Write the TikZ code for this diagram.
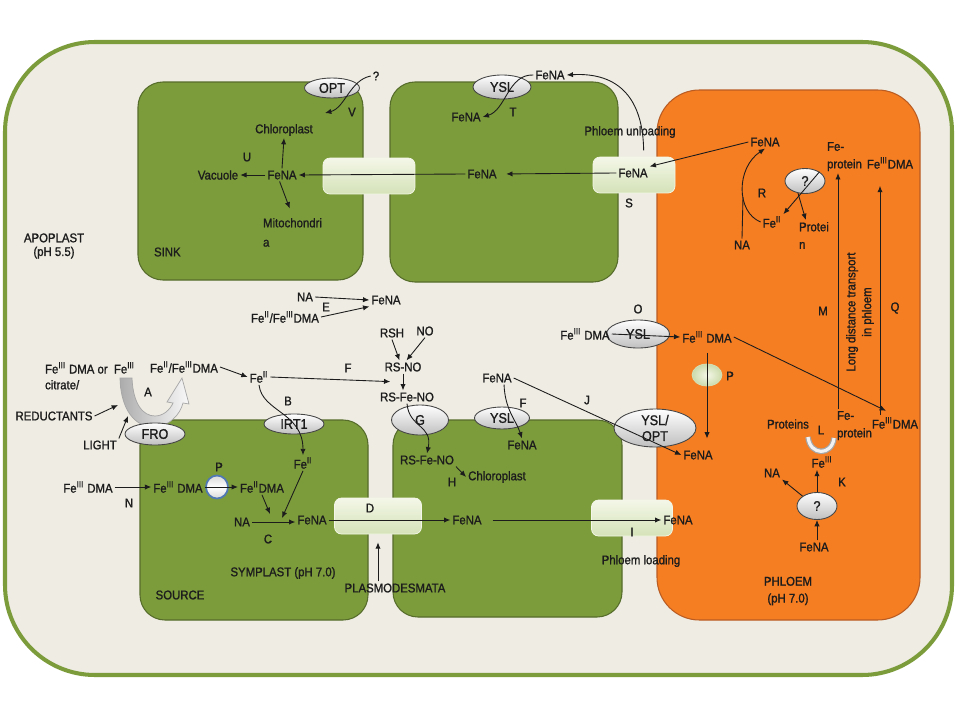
\documentclass[tikz,border=0pt]{standalone}
\usepackage{fontspec}
\setmainfont{Liberation Sans}[FakeStretch=0.9, FakeBold=1.2]
\usetikzlibrary{arrows.meta,shapes.geometric,positioning}
\definecolor{leafgreen}{RGB}{124,156,60}
\definecolor{leafedge}{RGB}{86,108,42}
\definecolor{sieveorange}{RGB}{245,125,34}
\definecolor{sieveedge}{RGB}{185,92,35}
\definecolor{apobeige}{RGB}{238,236,227}
\definecolor{pdlight}{RGB}{244,247,232}
\definecolor{pddark}{RGB}{212,226,184}
\definecolor{ringblue}{RGB}{79,120,180}
\definecolor{inkgray}{RGB}{28,28,28}
\newcommand{\FeII}{Fe\textsuperscript{II}}
\newcommand{\FeIII}{Fe\textsuperscript{III}}
\newcommand{\lblfont}{\fontsize{7.2}{8.5}\selectfont}
\def\pores{
  pdSinkMid/369/176/1.84,
  pdMidPhl/634/175/1.64,
  pdSD/378/516/1.74,
  pdMidPhl2/632/518/1.62
}
\tikzset{
  frame/.style    = {draw=leafgreen, line width=2.3pt, fill=apobeige, rounded corners=1.8cm},
  cell/.style     = {draw=leafedge, line width=0.6pt, fill=leafgreen, rounded corners=0.5cm},
  sieve/.style    = {draw=sieveedge, line width=0.6pt, fill=sieveorange, rounded corners=0.85cm},
  pore/.style     = {rectangle, draw=pdlight, line width=0.4pt, top color=pdlight, bottom color=pddark, rounded corners=0.14cm, minimum height=0.72cm},
  carrier/.style  = {ellipse, draw=gray!55!black, line width=0.5pt, top color=white, bottom color=gray!50, inner sep=0pt, text=inkgray, font=\fontsize{8}{9}\selectfont},
  gate/.style     = {ellipse, draw=ringblue, line width=1pt, top color=gray!30, bottom color=gray!30, middle color=white, inner sep=0pt},
  blob/.style     = {ellipse, draw=pddark, line width=0.4pt, inner color=pdlight, outer color=pddark!90!leafgreen, inner sep=0pt},
  lbl/.style      = {inner sep=1pt, text=inkgray, font=\lblfont},
  flow/.style     = {-{Latex[length=3.6pt,width=3pt]}, line width=0.5pt, draw=inkgray},
  link/.style     = {line width=0.5pt, draw=inkgray},
  uarc/.style     = {draw=gray!70, double=gray!10, double distance=1.8pt, line width=0.7pt}
}

\begin{document}
\begin{tikzpicture}[
    % slide pixel grid, y pointing down
    x=0.02cm, y=-0.02cm
  ]
  \useasboundingbox (0,0) rectangle (960,720);
  % Apoplast frame
  \draw[frame] (5,42) rectangle (952,675);
  % Cells
  \draw[cell] (138,82) rectangle (363,280);   % sink
  \draw[cell] (390,82) rectangle (618,282);
  \draw[cell] (140,420) rectangle (368,620);  % source
  \draw[cell] (393,420) rectangle (622,617);
  \draw[sieve] (657,90) rectangle (920,620);  % phloem

  % Plasmodesmata
  \foreach \pd/\cx/\cy/\w in \pores {
    \node[pore, minimum width=\w cm] (\pd) at (\cx,\cy) {};
  }

  % Reduction arrow at FRO
  \shade[left color=gray!65, right color=gray!5, draw=gray!70, line width=0.4pt]
    (120,378) .. controls (121,416) and (140,428) .. (155,427)
    .. controls (169,426) and (180,415) .. (183,403) -- (189,404) -- (182,378) -- (167,402)
    -- (173,403) .. controls (170,410) and (163,416) .. (155,416)
    .. controls (143,416) and (133,404) .. (132,378) -- cycle;

  % Carriers
  \node[carrier, minimum width=1.1cm, minimum height=0.4cm] (opt) at (332,88) {OPT};
  \node[carrier, minimum width=1.16cm, minimum height=0.48cm] (yslTop) at (502,87) {YSL};
  \node[carrier, minimum width=0.8cm, minimum height=0.5cm] (phlQ) at (805,181) {?};
  \node[carrier, minimum width=1.2cm, minimum height=0.44cm] (fro) at (155,434) {FRO};
  \node[carrier, minimum width=1.2cm, minimum height=0.4cm] (irt1) at (294,424) {IRT1};
  \node[carrier, minimum width=1.14cm, minimum height=0.6cm] (gCarrier) at (420,420) {G};
  \node[carrier, minimum width=1.1cm, minimum height=0.44cm] (yslF) at (502,418) {YSL};
  \node[carrier, minimum width=1.26cm, minimum height=0.56cm] (yslO) at (638,334) {YSL};
  \node[carrier, align=center, minimum width=1.64cm, minimum height=0.76cm] (yslOpt) at (655,428) {YSL/\\OPT};
  \node[carrier, minimum width=0.8cm, minimum height=0.54cm] (phlQ2) at (817,506) {?};
  \node[gate, minimum width=0.44cm, minimum height=0.46cm] (pRing) at (217,487) {};
  \node[blob, minimum width=0.6cm, minimum height=0.44cm] (pBlob) at (707,375) {};

  % Sink cell
  \node[lbl] (sinkQ) at (376,76) {?};
  \node[lbl] (sinkV) at (352,112) {V};
  \node[lbl] (sinkChl) at (284,130) {Chloroplast};
  \node[lbl] (sinkU) at (247,157) {U};
  \node[lbl] (sinkFeNA) at (282,175) {FeNA};
  \node[lbl] (sinkVac) at (218,175) {Vacuole};
  \node[lbl, align=left, anchor=north west, font=\fontsize{7.2}{11}\selectfont] (sinkMito) at (261,216) {Mitochondri\\a};
  \node[lbl, anchor=west] (sinkName) at (152,252) {SINK};
  \coordinate (optIn) at (325,113);
  \draw[flow] (sinkQ.west) .. controls (350,80) and (345,108) .. (optIn);
  \draw[flow] (sinkFeNA.north) -- (sinkChl.south);
  \draw[flow] (sinkFeNA.west) -- (sinkVac.east);
  \draw[flow, shorten >=0.16cm] (sinkFeNA.250) -- (sinkMito.north);

  % Upper cell
  \node[lbl] (topFeNAout) at (550,75) {FeNA};
  \node[lbl] (topT) at (513,112) {T};
  \node[lbl] (topFeNAin) at (466,117) {FeNA};
  \node[lbl] (unload) at (630,132) {Phloem unloading};
  \node[lbl] (midFeNA) at (482,174) {FeNA};
  \node[lbl] (pdFeNA) at (633,173) {FeNA};
  \node[lbl] (labS) at (629,203) {S};
  \draw[flow] (midFeNA.west) -- (sinkFeNA.east);
  \draw[flow, shorten >=0.15cm] (pdFeNA.west) -- (midFeNA.east);
  \draw[flow] (topFeNAout.west) .. controls (508,74) and (506,110) .. (topFeNAin.east);
  \draw[flow] (pdFeNA.north east) ++(-6,-16) .. controls (643,100) and (620,72) .. (topFeNAout.east);

  % Phloem, top
  \node[lbl] (phlFeNA) at (765,142) {FeNA};
  \node[lbl] (phlFeII) at (772,222) {\FeII};
  \node[lbl, align=left, anchor=north west, font=\fontsize{7.2}{10}\selectfont] (phlProt) at (797,220) {Protei\\n};
  \node[lbl] (phlNA) at (742,245) {NA};
  \node[lbl] (labR) at (762,193) {R};
  \node[lbl, align=left, anchor=north west, font=\fontsize{7.2}{10}\selectfont] (feProtTop) at (825,140) {Fe-\\protein};
  \node[lbl] (fedmaTop) at (890,163) {\FeIII DMA};
  \node[lbl] (labM) at (823,311) {M};
  \node[lbl] (labQ) at (895,308) {Q};
  \node[lbl, rotate=90, align=center, font=\fontsize{7.2}{9}\selectfont] (longDist) at (860,312) {Long distance transport\\in phloem};
  \draw[flow] (phlFeNA.west) -- (pdFeNA.north east);
  \coordinate (rJoin) at (743,197);
  \draw[flow] (phlFeII.west) .. controls (736,212) and (736,168) .. (phlFeNA.south);
  \draw[link] (phlNA.north) -- (rJoin);
  \draw[flow] (phlQ.north east) -- (phlFeII.north east);
  \draw[flow] (phlQ.240) -- ([xshift=5pt]phlProt.north west);

  % Phloem, middle
  \node[lbl] (labO) at (638,309) {O};
  \node[lbl] (dmaOut) at (585,334) {\FeIII{} DMA};
  \node[lbl] (dmaIn) at (707,337) {\FeIII{} DMA};
  \node[lbl] (labP2) at (730,376) {P};
  \node[lbl] (labJ) at (587,400) {J};
  \node[lbl] (phlFeNA2) at (698,455) {FeNA};
  \node[lbl] (fedmaBot) at (895,423) {\FeIII DMA};
  \node[lbl, align=left, anchor=north west, font=\fontsize{7.2}{10}\selectfont] (feProtBot) at (835,409) {Fe-\\protein};
  \node[lbl] (proteins) at (788,424) {Proteins};
  \node[lbl] (labL) at (821,430) {L};
  \node[lbl] (phlFeIII) at (822,462) {\FeIII};
  \node[lbl] (labK) at (842,482) {K};
  \node[lbl] (phlNA2) at (772,473) {NA};
  \node[lbl] (phlFeNA3) at (814,547) {FeNA};
  \node[lbl, align=center, font=\fontsize{7.2}{9.6}\selectfont] (phloemName) at (788,591) {PHLOEM\\(pH 7.0)};
  \coordinate (mAxis) at (838,0);
  \coordinate (qAxis) at (880,0);
  \draw[flow] (feProtBot.north west -| mAxis) -- (feProtTop.south -| mAxis);
  \draw[flow, shorten >=0.3cm] (fedmaBot.north -| qAxis) -- (fedmaTop.south -| qAxis);
  \draw[flow] (dmaOut.east) -- (dmaIn.west);
  \draw[flow, shorten <=0.16cm, shorten >=0.2cm] (dmaIn.south) -- (dmaIn.south |- phlFeNA2.north);
  \draw[flow, shorten >=0.2cm] (dmaIn.east) -- (fedmaBot.north);
  \draw[uarc] (808,437) .. controls (810,456) and (832,456) .. (834,438);
  \draw[flow] (phlQ2.north) -- (phlQ2.north |- phlFeIII.south);
  \draw[flow] (phlQ2.north west) -- (phlNA2.south east);
  \draw[flow] (phlFeNA3.north -| phlQ2) -- (phlQ2.south);

  % Apoplast and lower cell
  \node[lbl, align=center, font=\fontsize{7.2}{7.8}\selectfont] (apoName) at (54,246) {APOPLAST\\(pH 5.5)};
  \node[lbl] (eNA) at (305,297) {NA};
  \node[lbl] (labE) at (326,307) {E};
  \node[lbl] (eFeNA) at (386,300) {FeNA};
  \node[lbl] (eDMA) at (285,317) {\FeII/\FeIII DMA};
  \draw[flow] (eNA.east) -- (eFeNA.west);
  \draw[flow] (eDMA.east) -- (eFeNA.south west);
  \node[lbl] (rsh) at (392,333) {RSH};
  \node[lbl] (noGas) at (425,331) {NO};
  \node[lbl] (rsno) at (403,367) {RS-NO};
  \node[lbl] (rsfeno) at (407,397) {RS-Fe-NO};
  \draw[flow] (rsh.south) -- ([xshift=-2pt]rsno.north);
  \draw[flow] (noGas.south) -- ([xshift=2pt]rsno.north);
  \draw[flow] (rsno.south) -- (rsno.south |- rsfeno.north);
  \node[lbl] (feIIapo) at (259,377) {\FeII};
  \node[lbl] (labF1) at (348,368) {F};
  \draw[flow] (feIIapo.east) -- ([xshift=7pt,yshift=5pt]rsfeno.north west);
  \node[lbl] (labB) at (288,401) {B};
  \node[lbl] (feIIsym) at (303,463) {\FeII};
  \draw[flow] (feIIapo.south) .. controls (262,412) and (303,412) .. (feIIsym.north);
  \node[lbl] (rsfenoIn) at (427,460) {RS-Fe-NO};
  \draw[flow] (rsfeno.south) .. controls (409,428) and (433,425) .. (rsfenoIn.north);
  \node[lbl] (labH) at (452,482) {H};
  \node[lbl] (chlSrc) at (497,477) {Chloroplast};
  \draw[flow] (rsfenoIn.south east) -- (chlSrc.west);
  \node[lbl] (feNAout2) at (497,378) {FeNA};
  \node[lbl] (labF2) at (523,403) {F};
  \node[lbl] (feNAin2) at (522,445) {FeNA};
  \draw[flow] ([xshift=4pt]feNAout2.south) .. controls (505,410) and (516,420) .. (feNAin2.north);
  \draw[flow] (feNAout2.east) -- (phlFeNA2.west);

  % Root uptake
  \node[lbl, align=left, anchor=north west, font=\fontsize{7.2}{9}\selectfont] (fe3src) at (43,360) {\FeIII{} DMA or\enspace\FeIII\\citrate/};
  \node[lbl] (labA) at (148,392) {A};
  \node[lbl] (froDMA) at (184,367) {\FeII/\FeIII DMA};
  \node[lbl] (reduct) at (54,416) {REDUCTANTS};
  \node[lbl] (light) at (100,445) {LIGHT};
  \coordinate (reductTip) at (118,405);
  \coordinate (lightTip) at (128,416);
  \draw[flow] (froDMA.east) -- (feIIapo.west);
  \draw[flow] (reduct.east) -- (reductTip);
  \draw[flow] (light.north east) -- (lightTip);

  % Source cell
  \node[lbl] (dmaN) at (88,487) {\FeIII{} DMA};
  \node[lbl] (labN) at (129,503) {N};
  \node[lbl] (dmaSrc) at (178,487) {\FeIII{} DMA};
  \node[lbl] (labP1) at (219,467) {P};
  \node[lbl] (feIIdma) at (262,487) {\FeII DMA};
  \node[lbl] (srcNA) at (242,522) {NA};
  \node[lbl] (srcFeNA) at (312,520) {FeNA};
  \node[lbl] (labC) at (268,539) {C};
  \node[lbl] (symplast) at (283,573) {SYMPLAST (pH 7.0)};
  \node[lbl] (sourceName) at (180,595) {SOURCE};
  \node[lbl] (labD) at (370,508) {D};
  \node[lbl] (midFeNA2) at (467,520) {FeNA};
  \node[lbl] (phlFeNA4) at (678,520) {FeNA};
  \node[lbl] (labI) at (632,532) {I};
  \node[lbl] (loading) at (641,561) {Phloem loading};
  \node[lbl] (plasmo) at (395,588) {PLASMODESMATA};
  \coordinate (cJoinA) at (270,514);
  \coordinate (cJoinB) at (282,518);
  \draw[flow] (dmaN.east) -- (dmaSrc.west);
  \draw[flow] (dmaSrc.east) -- (feIIdma.west);
  \draw[flow] (feIIdma.south) -- (cJoinA);
  \draw[flow] (feIIsym.south) -- (cJoinB);
  \draw[flow] (srcNA.east) -- (srcNA.east -| srcFeNA.west);
  \draw[flow] (srcFeNA.east) -- (midFeNA2.west);
  \draw[flow, shorten <=0.18cm] (midFeNA2.east) -- (phlFeNA4.west);
  \draw[flow, shorten >=0.16cm] (plasmo.north -| pdSD) -- (pdSD.south);
\end{tikzpicture}
\end{document}
